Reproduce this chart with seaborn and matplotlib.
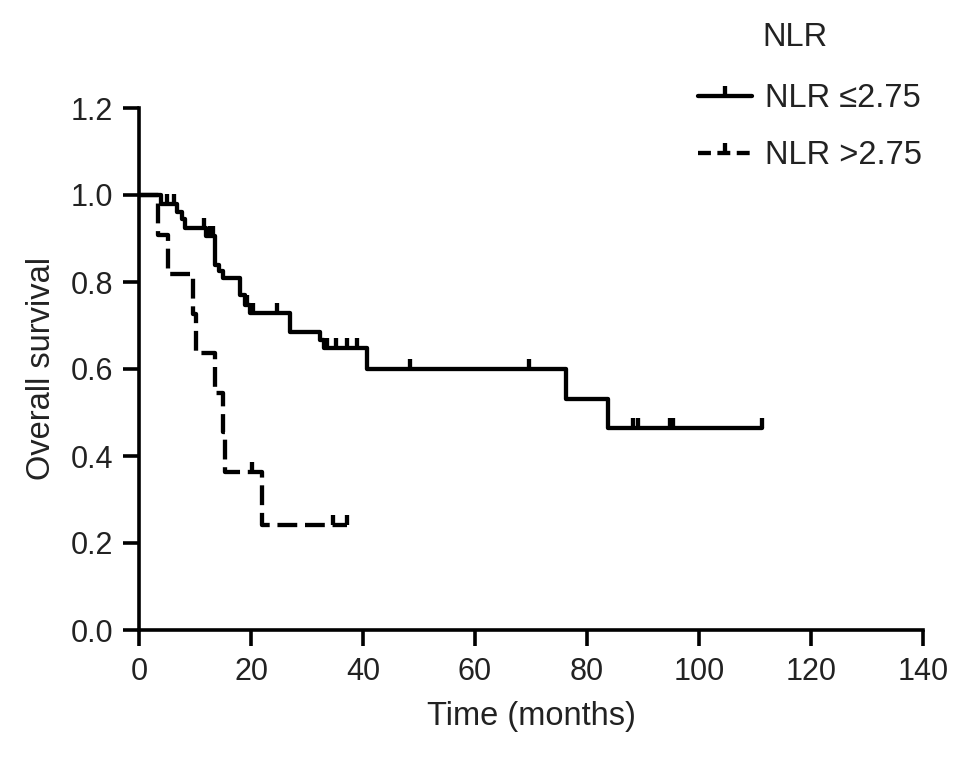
import numpy as np
import pandas as pd
import matplotlib
matplotlib.use("Agg")
import matplotlib.pyplot as plt
import seaborn as sns
from matplotlib.path import Path
from matplotlib.markers import MarkerStyle
from matplotlib.lines import Line2D

# ---------------- data ----------------
group_labels = ["NLR \u22642.75", "NLR >2.75"]

low_times = [0, 4.0, 6.7, 7.6, 8.3, 12.0, 13.6, 14.3, 15.0, 18.0, 18.9, 19.8,
             27.0, 32.3, 33.0, 40.7, 76.2, 83.8, 111.3]
low_surv = [1.0, 0.979, 0.962, 0.945, 0.925, 0.905, 0.840, 0.825, 0.810, 0.770,
            0.747, 0.728, 0.686, 0.667, 0.648, 0.600, 0.530, 0.464, 0.464]
low_censor = [5.0, 6.3, 11.6, 12.6, 13.2, 19.3, 20.4, 24.6, 33.5, 35.1, 37.1,
              38.9, 48.4, 69.7, 88.2, 89.1, 94.8, 95.4, 111.3]

high_times = [0, 3.4, 5.2, 9.6, 10.1, 13.6, 15.0, 15.4, 21.9, 37.1]
high_surv = [1.0, 0.909, 0.818, 0.727, 0.636, 0.545, 0.455, 0.364, 0.242, 0.242]
high_censor = [20.2, 34.7, 37.1]

x_ticks = [0, 20, 40, 60, 80, 100, 120, 140]
y_ticks = [0.0, 0.2, 0.4, 0.6, 0.8, 1.0, 1.2]

# ---------------- styling ----------------
sns.set_theme(style="ticks")
plt.rcParams["font.family"] = ["Liberation Sans", "DejaVu Sans"]
TXT = "#222222"
LW = 3.1

fig = plt.figure(figsize=(9.69, 7.59), dpi=100)
W, H = 969, 759
ax = fig.add_axes([139 / W, 1 - 630 / H, (923 - 139) / W, (630 - 108) / H])

tick_marker = MarkerStyle(Path([(0, 0), (0, 1)], [Path.MOVETO, Path.LINETO]))


def surv_at(times, surv, t):
    idx = np.searchsorted(np.asarray(times), t, side="right") - 1
    return np.asarray(surv)[idx]


curves = [
    (low_times, low_surv, low_censor, "-"),
    (high_times, high_surv, high_censor, (0, (4.6, 1.8))),
]

for (t, s, c, ls), lab in zip(curves, group_labels):
    df = pd.DataFrame({"time": t, "surv": s})
    sns.lineplot(data=df, x="time", y="surv", drawstyle="steps-post",
                 estimator=None, sort=False, color="black", linewidth=LW,
                 linestyle=ls, ax=ax, legend=False)
    cdf = pd.DataFrame({"time": c, "surv": surv_at(t, s, c)})
    sns.scatterplot(data=cdf, x="time", y="surv", marker=tick_marker, s=220,
                    color="black", edgecolor="black", linewidth=LW, ax=ax,
                    legend=False, zorder=3)

ax.set_xlim(0, 140)
ax.set_ylim(0, 1.2)
ax.set_xticks(x_ticks)
ax.set_yticks(y_ticks)
ax.set_yticklabels([f"{v:.1f}" for v in y_ticks])
sns.despine(ax=ax)
for sp in ["left", "bottom"]:
    ax.spines[sp].set_linewidth(2.6)
    ax.spines[sp].set_color("black")
ax.tick_params(axis="both", length=11.5, width=2.6, color="black",
               labelsize=22, labelcolor=TXT)
ax.tick_params(axis="y", pad=7)
ax.tick_params(axis="x", pad=8)

ax.set_xlabel("Time (months)", fontsize=23.5, color=TXT, labelpad=10)
ax.set_ylabel("Overall survival", fontsize=23.5, color=TXT, labelpad=10)

handles = [
    Line2D([0], [0], color="black", lw=LW, linestyle="-", marker=tick_marker,
           markersize=15, markeredgewidth=LW, markeredgecolor="black"),
    Line2D([0], [0], color="black", lw=LW, linestyle=(0, (3, 1.5)),
           marker=tick_marker, markersize=15, markeredgewidth=LW,
           markeredgecolor="black"),
]
fig.legend(handles, group_labels, loc="upper left",
           bbox_to_anchor=(698 / W, 1 - 83 / H), frameon=False, fontsize=23.5,
           handlelength=1.65, handletextpad=0.4, labelspacing=0.8,
           borderpad=0, borderaxespad=0, labelcolor=TXT)
fig.text(762 / W, 1 - 38 / H, "NLR", fontsize=23.5, color=TXT, va="center",
         ha="left")

fig.savefig("out.png", dpi=100)
